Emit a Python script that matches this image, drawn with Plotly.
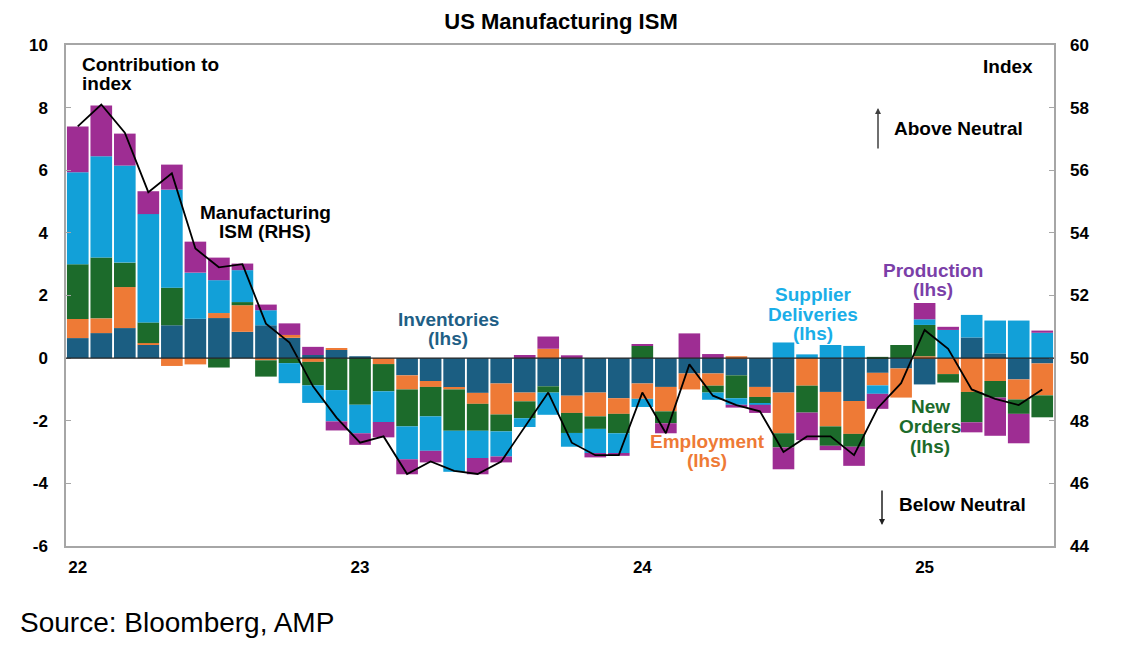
import plotly.graph_objects as go

# monthly contributions to the ISM index, Jan 2022 - Jun 2025 (lhs, pts)
months = list(range(42))
inventories = [0.64, 0.80, 0.96, 0.43, 1.05, 1.26, 1.28, 0.84, 1.05, 0.65,
               0.10, 0.26, 0.06, 0.00, -0.55, -0.73, -0.94, -1.11, -0.81, -1.10,
               -0.90, -1.20, -1.10, -1.28, -0.81, -0.92, -0.49, -0.49, -0.55, -0.92,
               -1.10, 0.00, -1.08, -1.37, -0.47, -0.33, -0.84, 0.00, 0.66, 0.15,
               -0.68, -0.17]
employment = [0.61, 0.47, 1.31, 0.05, -0.25, -0.20, 0.16, 0.85, -0.07, 0.09,
              -0.12, 0.04, 0.00, -0.19, -0.45, -0.19, -0.06, -0.35, -0.99, -0.28,
              0.30, -0.55, -0.76, -0.50, -0.49, -0.78, -0.51, -0.39, 0.06, -0.32,
              -1.30, -0.88, -1.10, -1.05, -0.40, -0.93, 0.06, -0.51, -1.08, -0.73,
              -0.64, -1.02]
new_orders = [1.75, 1.94, 0.78, 0.66, 1.20, 0.00, -0.30, 0.10, -0.52, -0.16,
              -0.75, -1.02, -1.49, -0.87, -1.18, -0.94, -1.32, -0.86, -0.54, -0.54,
              -0.20, -0.64, -0.40, -0.62, 0.39, -0.38, 0.00, -0.22, -0.73, -0.22,
              -0.45, -0.86, -0.62, -0.41, 0.04, 0.42, 1.00, -0.27, -0.97, -0.53,
              -0.46, -0.70]
supplier = [2.94, 3.24, 3.10, 3.46, 3.13, 1.47, 1.05, 1.02, 0.48, -0.64,
            -0.56, -1.00, -0.91, -0.98, -1.05, -1.10, -1.31, -0.87, -0.80, -0.28,
            -0.71, -0.44, -0.77, -0.63, -0.26, 0.00, 0.00, -0.23, -0.21, -0.03,
            0.50, 0.12, 0.42, 0.39, -0.27, 0.00, 0.18, 0.90, 0.72, 1.05,
            1.20, 0.81]
production = [1.46, 1.62, 1.02, 0.73, 0.80, 0.99, 0.72, 0.21, 0.18, 0.37,
              0.26, -0.29, -0.37, -0.49, -0.48, -0.37, 0.00, -0.52, -0.19, 0.10,
              0.39, 0.09, -0.14, -0.09, 0.05, -0.32, 0.79, 0.13, -0.09, -0.26,
              -0.70, -0.88, -0.14, -0.61, -0.48, 0.00, 0.52, 0.10, -0.32, -1.22,
              -0.94, 0.07]
# headline index (rhs)
ism = [57.4, 58.1, 57.2, 55.3, 55.9, 53.5, 52.9, 53.0, 51.1, 50.5,
       49.1, 48.1, 47.3, 47.5, 46.3, 46.7, 46.4, 46.3, 46.7, 47.8,
       48.9, 47.3, 46.9, 46.9, 48.9, 47.6, 49.8, 48.8, 48.5, 48.3,
       47.0, 47.5, 47.5, 46.9, 48.4, 49.2, 50.9, 50.3, 49.0, 48.7,
       48.5, 49.0]
year_ticks = [0, 12, 24, 36]
year_labels = ["22", "23", "24", "25"]

C_INV = "#1B5E82"
C_EMP = "#EE7A36"
C_NO = "#1C6B2B"
C_SD = "#12A0D8"
C_PROD = "#9E2D93"

FONT = "Liberation Sans, Arial, sans-serif"

# page has an 8px body margin, so size the figure to fit inside the window
OFF = 8
W, H = 1127 - 2 * OFF, 650 - 2 * OFF
# plot area in screenshot pixels
L, R, T, B = 66, 1054, 45, 546


def px(x, y):
    return (x - L) / (R - L), (B - y) / (B - T)


fig = go.Figure()
for name, vals, col in [
    ("Inventories", inventories, C_INV),
    ("Employment", employment, C_EMP),
    ("New Orders", new_orders, C_NO),
    ("Supplier Deliveries", supplier, C_SD),
    ("Production", production, C_PROD),
]:
    fig.add_trace(go.Bar(x=months, y=vals, name=name, marker_color=col,
                         marker_line_width=0))

fig.add_trace(go.Scatter(x=months, y=ism, yaxis="y2", mode="lines",
                         line=dict(color="black", width=1.8), name="ISM"))

fig.update_layout(
    barmode="relative",
    bargap=0.08,
    width=W, height=H, autosize=False,
    margin=dict(l=L - OFF, r=W - (R - OFF), t=T - OFF, b=H - (B - OFF)),
    plot_bgcolor="white", paper_bgcolor="white",
    showlegend=False,
    font=dict(family=FONT, size=17, color="black"),
    title=dict(text="<b>US Manufacturing ISM</b>", x=(561 - OFF) / W,
               y=1 - (21 - OFF) / H, xanchor="center", yanchor="middle",
               font=dict(size=22, family=FONT, color="black")),
    xaxis=dict(range=[-0.5, 41.5], tickvals=year_ticks,
               ticktext=["<b>%s</b>" % t for t in year_labels],
               showline=True, linecolor="#A6A6A6", linewidth=1.5, mirror=True,
               showgrid=False, zeroline=False, ticks="", ticklabelstandoff=5),
    yaxis=dict(range=[-6, 10], showgrid=False, zeroline=False,
               showline=True, linecolor="#A6A6A6", linewidth=1.5, mirror=True,
               ticks="inside", ticklen=5, tickcolor="#A6A6A6",
               tickvals=list(range(-6, 11, 2)),
               ticktext=["<b>%d</b>" % v for v in range(-6, 11, 2)],
               ticklabelstandoff=13),
    yaxis2=dict(range=[44, 60], overlaying="y", side="right",
                showgrid=False, zeroline=False, showline=False,
                ticks="inside", ticklen=5, tickcolor="#A6A6A6",
                tickvals=list(range(44, 61, 2)),
                ticktext=["<b>%d</b>" % v for v in range(44, 61, 2)],
                ticklabelstandoff=15),
)

# zero line drawn over the bars
fig.add_shape(type="line", xref="paper", yref="y", x0=0, x1=1, y0=0, y1=0,
              line=dict(color="#222222", width=1.2), layer="above")


def label(lines, x, y, color="black", anchor="center", size=19, step=18.5):
    # y is the vertical centre of the whole block; one annotation per line
    y0 = y - step * (len(lines) - 1) / 2
    for i, line in enumerate(lines):
        ax_, ay_ = px(x, y0 + i * step)
        fig.add_annotation(text="<b>%s</b>" % line, x=ax_, y=ay_, xref="paper",
                           yref="paper", xanchor=anchor, yanchor="middle",
                           showarrow=False,
                           font=dict(color=color, size=size, family=FONT))


label(["Contribution to", "index"], 80, 74, anchor="left")
label(["Index"], 1035, 66, anchor="right")
label(["Above Neutral"], 892, 128, anchor="left")
label(["Below Neutral"], 897, 504, anchor="left")
label(["Manufacturing", "ISM (RHS)"], 265, 222)
label(["Inventories", "(lhs)"], 448, 329, color="#1F5F86")
label(["Employment", "(lhs)"], 707, 451, color=C_EMP)
label(["Supplier", "Deliveries", "(lhs)"], 813, 314, color="#1AAEE8", step=20)
label(["Production", "(lhs)"], 933, 280, color="#7B3FA8")
label(["New", "Orders", "(lhs)"], 930, 426, color=C_NO, step=20)

# neutral arrows
hx, hy = px(878, 108)
fig.add_annotation(x=hx, y=hy, xref="paper", yref="paper", text="",
                   showarrow=True, ax=0, ay=42, arrowhead=2, arrowsize=0.8,
                   arrowwidth=1.5, arrowcolor="#404040")
hx, hy = px(882, 525)
fig.add_annotation(x=hx, y=hy, xref="paper", yref="paper", text="",
                   showarrow=True, ax=0, ay=-36, arrowhead=2, arrowsize=0.8,
                   arrowwidth=1.5, arrowcolor="#202020")

sx, sy = px(18, 622)
fig.add_annotation(text="Source: Bloomberg, AMP", x=sx, y=sy, xref="paper",
                   yref="paper", xanchor="left", yanchor="middle",
                   showarrow=False, font=dict(size=28, family=FONT, color="black"))

fig.write_html("out.html")
